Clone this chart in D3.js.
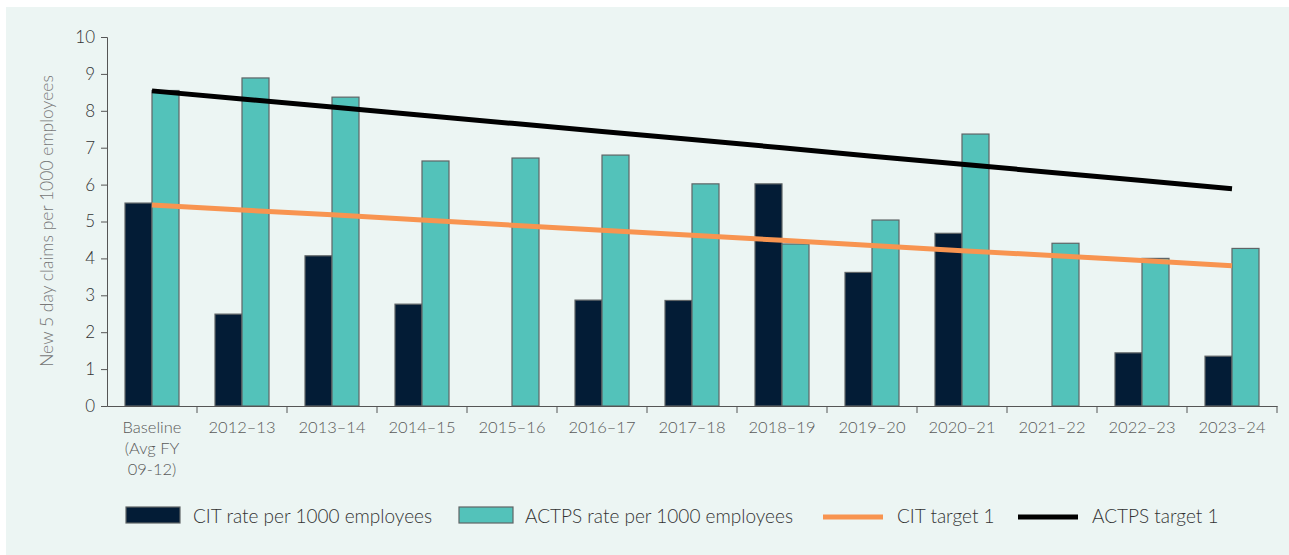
<!DOCTYPE html>
<html lang="en">
<head>
    <meta charset="UTF-8">
    <title>claims chart</title>
    <script src="https://d3js.org/d3.v7.min.js"></script>
    <style>
        body { margin: 0; background: #fff; }
        text { font-family: Lato, "Open Sans", sans-serif; font-weight: 300; }
    </style>
</head>
<body>
<script>
// categories and values
var years = ["Baseline|(Avg FY|09-12)", "2012–13", "2013–14", "2014–15", "2015–16", "2016–17",
    "2017–18", "2018–19", "2019–20", "2020–21", "2021–22", "2022–23", "2023–24"];
var citRate = [5.50, 2.49, 4.07, 2.76, null, 2.87, 2.86, 6.02, 3.62, 4.68, null, 1.44, 1.35];
var actpsRate = [8.55, 8.89, 8.37, 6.64, 6.72, 6.80, 6.02, 4.39, 5.04, 7.37, 4.41, 4.00, 4.27];
var citTarget = [5.45, 5.31, 5.18, 5.04, 4.90, 4.76, 4.63, 4.49, 4.35, 4.21, 4.08, 3.94, 3.80];
var actpsTarget = [8.54, 8.32, 8.10, 7.88, 7.66, 7.44, 7.22, 7.00, 6.77, 6.55, 6.33, 6.11, 5.89];
var yTicks = [0, 1, 2, 3, 4, 5, 6, 7, 8, 9, 10];

var W = 1289, H = 555;
var svg = d3.select("body").append("svg")
    .attr("width", W)
    .attr("height", H);

// light panel behind everything
svg.append("rect")
    .attr("x", 6).attr("y", 7)
    .attr("width", W - 6).attr("height", H - 7)
    .attr("fill", "#ecf5f3");

var x = d3.scaleBand().domain(years).range([107, 1277]).padding(0);
var y = d3.scaleLinear().domain([0, 10]).range([406, 37]);
var bw = x.bandwidth();
var sub = d3.scaleBand().domain(["cit", "actps"]).range([bw * 0.2, bw * 0.8]);

var rows = years.map(function(d, i) {
    return { year: d, cit: citRate[i], actps: actpsRate[i] };
});

// bars
var groups = svg.selectAll("g.yr")
    .data(rows)
    .enter()
    .append("g")
    .attr("class", "yr")
    .attr("transform", function(d) { return "translate(" + x(d.year) + ",0)"; });

groups.filter(function(d) { return d.cit != null; })
    .append("rect")
    .attr("x", sub("cit"))
    .attr("y", function(d) { return y(d.cit); })
    .attr("width", sub.bandwidth())
    .attr("height", function(d) { return y(0) - y(d.cit); })
    .attr("fill", "#031c36")
    .attr("stroke", "#5f6466")
    .attr("stroke-width", 1.2);

groups.append("rect")
    .attr("x", sub("actps"))
    .attr("y", function(d) { return y(d.actps); })
    .attr("width", sub.bandwidth())
    .attr("height", function(d) { return y(0) - y(d.actps); })
    .attr("fill", "#53c2ba")
    .attr("stroke", "#5f6466")
    .attr("stroke-width", 1.2);

// target lines
var line = d3.line()
    .x(function(d, i) { return x(years[i]) + bw / 2; })
    .y(function(d) { return y(d); });

svg.append("path")
    .datum(citTarget)
    .attr("d", line)
    .attr("fill", "none")
    .attr("stroke", "#f89450")
    .attr("stroke-width", 5);

svg.append("path")
    .datum(actpsTarget)
    .attr("d", line)
    .attr("fill", "none")
    .attr("stroke", "#000")
    .attr("stroke-width", 5);

// y axis
var yAxis = svg.append("g")
    .attr("transform", "translate(107,0)")
    .call(d3.axisLeft(y).tickValues(yTicks).tickSize(6).tickSizeOuter(6).tickPadding(6));
yAxis.select(".domain").attr("stroke", "#555");
yAxis.selectAll(".tick line").attr("stroke", "#555");
yAxis.selectAll(".tick text")
    .attr("fill", "#333")
    .style("font-size", "17px");

// x axis
var xAxis = svg.append("g")
    .attr("transform", "translate(0,406)")
    .call(d3.axisBottom(x).tickSize(0).tickFormat(""));
xAxis.select(".domain").attr("stroke", "#555");

svg.selectAll("line.xtick")
    .data(years.slice(1).concat(["end"]))
    .enter()
    .append("line")
    .attr("class", "xtick")
    .attr("x1", function(d, i) { return x(years[i]) + bw; })
    .attr("x2", function(d, i) { return x(years[i]) + bw; })
    .attr("y1", 406).attr("y2", 413)
    .attr("stroke", "#555");

var labels = svg.selectAll("text.xlab")
    .data(years)
    .enter()
    .append("text")
    .attr("class", "xlab")
    .attr("x", function(d) { return x(d) + bw / 2; })
    .attr("y", 433)
    .attr("text-anchor", "middle")
    .attr("fill", "#5a5a5a")
    .style("font-size", "16.5px");
labels.each(function(d) {
    var parts = d.split("|");
    d3.select(this).selectAll("tspan")
        .data(parts)
        .enter()
        .append("tspan")
        .attr("x", x(d) + bw / 2)
        .attr("dy", function(p, i) { return i === 0 ? 0 : 21; })
        .text(function(p) { return p; });
});

// y axis title
svg.append("text")
    .attr("transform", "translate(53,221) rotate(-90)")
    .attr("text-anchor", "middle")
    .attr("fill", "#777")
    .style("font-size", "17.5px")
    .text("New 5 day claims per 1000 employees");

// legend
var legend = [
    { label: "CIT rate per 1000 employees", type: "box", color: "#031c36", x: 126, tx: 193 },
    { label: "ACTPS rate per 1000 employees", type: "box", color: "#53c2ba", x: 459, tx: 525 },
    { label: "CIT target 1", type: "line", color: "#f89450", x: 823, tx: 897 },
    { label: "ACTPS target 1", type: "line", color: "#000", x: 1018, tx: 1092 }
];

var lg = svg.selectAll("g.legend")
    .data(legend)
    .enter()
    .append("g")
    .attr("class", "legend");

lg.filter(function(d) { return d.type === "box"; })
    .append("rect")
    .attr("x", function(d) { return d.x; })
    .attr("y", 507)
    .attr("width", 54)
    .attr("height", 16)
    .attr("fill", function(d) { return d.color; })
    .attr("stroke", "#5f6466")
    .attr("stroke-width", 1.2);

lg.filter(function(d) { return d.type === "line"; })
    .append("line")
    .attr("x1", function(d) { return d.x; })
    .attr("x2", function(d) { return d.x + 60; })
    .attr("y1", 517).attr("y2", 517)
    .attr("stroke", function(d) { return d.color; })
    .attr("stroke-width", 5);

lg.append("text")
    .attr("x", function(d) { return d.tx; })
    .attr("y", 523)
    .attr("fill", "#333")
    .style("font-size", "19px")
    .text(function(d) { return d.label; });
</script>
</body>
</html>
